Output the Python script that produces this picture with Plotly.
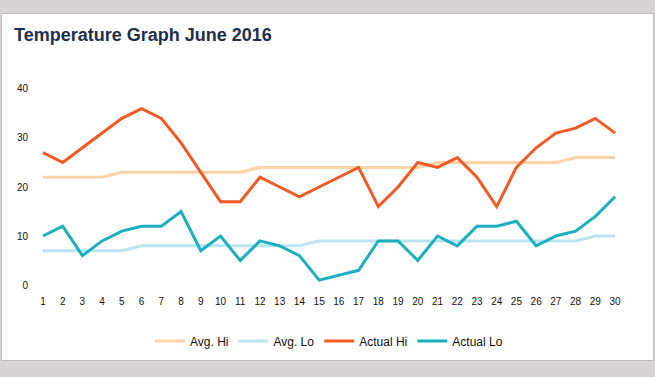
import plotly.graph_objects as go

days = list(range(1, 31))
day_labels = [str(d) for d in days]
avg_hi = [22, 22, 22, 22, 23, 23, 23, 23, 23, 23, 23, 24, 24, 24, 24, 24, 24, 24, 24, 24,
          25, 25, 25, 25, 25, 25, 25, 26, 26, 26]
avg_lo = [7, 7, 7, 7, 7, 8, 8, 8, 8, 8, 8, 8, 8, 8, 9, 9, 9, 9, 9, 9,
          9, 9, 9, 9, 9, 9, 9, 9, 10, 10]
actual_hi = [27, 25, 28, 31, 34, 36, 34, 29, 23, 17, 17, 22, 20, 18, 20, 22, 24, 16, 20, 25,
             24, 26, 22, 16, 24, 28, 31, 32, 34, 31]
actual_lo = [10, 12, 6, 9, 11, 12, 12, 15, 7, 10, 5, 9, 8, 6, 1, 2, 3, 9, 9, 5,
             10, 8, 12, 12, 13, 8, 10, 11, 14, 18]
y_ticks = [0, 10, 20, 30, 40]

series = [
    ("Avg. Hi", avg_hi, "#ffd3a8"),
    ("Avg. Lo", avg_lo, "#bae5f0"),
    ("Actual Hi", actual_hi, "#f25a24"),
    ("Actual Lo", actual_lo, "#1ab0bf"),
]

W, H = 655, 377
L, R, T, B = 39, 36, 88, 91  # plot area margins

fig = go.Figure()
for name, vals, col in series:
    fig.add_trace(go.Scatter(x=days, y=vals, mode="lines", name=name,
                             line=dict(color=col, width=3)))

pw = W - L - R
ph = H - T - B

def px_x(p):
    return (p - L) / pw

def px_y(p):
    return 1 - (p - T) / ph

# card background
fig.add_shape(type="rect", xref="paper", yref="paper", layer="below",
              x0=px_x(1.5), x1=px_x(653.5), y0=px_y(360.5), y1=px_y(13.5),
              fillcolor="white", line=dict(color="#bdbdbd", width=1))

font = "Liberation Sans, Arial, Helvetica, sans-serif"
fig.add_annotation(text="<b>Temperature Graph June 2016</b>", xref="paper", yref="paper",
                   x=px_x(12), y=px_y(35), xanchor="left", yanchor="middle",
                   showarrow=False, font=dict(family=font, size=18, color="#1d2f4a"))

fig.update_layout(
    width=W, height=H,
    margin=dict(l=L, r=R, t=T, b=B, autoexpand=False),
    paper_bgcolor="#d8d4d3",
    plot_bgcolor="rgba(0,0,0,0)",
    font=dict(family=font, size=10, color="#111111"),
    showlegend=True,
    legend=dict(orientation="h", x=0.5, xanchor="center", y=px_y(341), yanchor="middle",
                font=dict(size=12, color="#111111"), bgcolor="rgba(0,0,0,0)",
                itemwidth=30, tracegroupgap=0),
    xaxis=dict(range=[0.8, 30.2], tickmode="array", tickvals=days, ticktext=day_labels,
               showgrid=False, zeroline=False, showline=False, ticks="",
               ticklabelstandoff=8, fixedrange=True),
    yaxis=dict(range=[-0.2, 40.2], tickmode="array", tickvals=y_ticks,
               ticktext=[str(v) for v in y_ticks],
               showgrid=False, zeroline=False, showline=False, ticks="",
               ticklabelstandoff=10, fixedrange=True),
)

fig.write_html("out.html", config={"displayModeBar": False},
               post_script="document.body.style.margin='0';document.body.style.overflow='hidden';")
